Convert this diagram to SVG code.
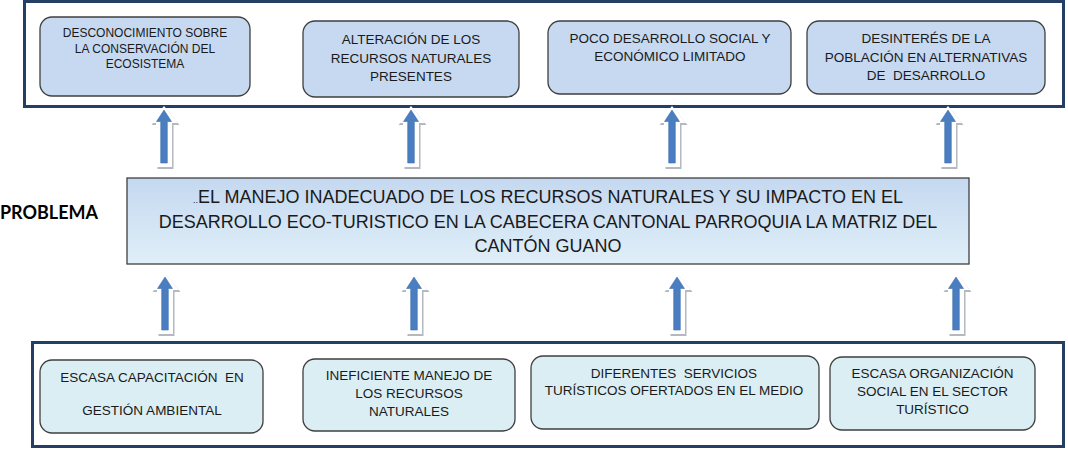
<svg xmlns="http://www.w3.org/2000/svg" xmlns:xlink="http://www.w3.org/1999/xlink" width="1068" height="449" viewBox="0 0 1068 449">
<style>
  .frame { fill: #ffffff; stroke: #243f63; stroke-width: 3; }
  .effect { fill: #c6d9f1; stroke: #3f3f3f; stroke-width: 1.3; }
  .cause { fill: #dbeef4; stroke: #3f3f3f; stroke-width: 1.3; }
  .prob { fill: url(#probGrad); stroke: #3f3f3f; stroke-width: 1.3; }
  text { font-family: "Liberation Sans", Arial, sans-serif; fill: #1a1a1a; text-anchor: middle; }
  .lbl { font-family: Lato, "Open Sans", sans-serif; font-weight: 700; font-size: 18px; fill: #000; text-anchor: start; }
</style>
<defs>
  <linearGradient id="probGrad" x1="0" y1="0" x2="0" y2="1">
    <stop offset="0" stop-color="#c4d8f0"/>
    <stop offset="1" stop-color="#e0eff8"/>
  </linearGradient>
  <g id="arrow">
    <path d="M1.5,-2 L15.5,15 L9.5,15 L9.5,59 L-6.5,59 L-6.5,15 L-12.5,15 Z" fill="#b4b8c0"/>
    <path d="M0,-4 L14,13 L8,13 L8,57 L-8,57 L-8,13 L-14,13 Z" fill="#ffffff"/>
    <path d="M0,0 L7.5,11.5 L3.3,11.5 L3.3,53 L-3.3,53 L-3.3,11.5 L-7.5,11.5 Z" fill="#4a7ec0" stroke="#3f70b0" stroke-width="0.6"/>
  </g>
</defs>

<g id="frames">
  <rect class="frame" x="24.5" y="1.5" width="1039" height="105"/>
  <rect class="frame" x="32.5" y="342.5" width="1031" height="104"/>
</g>

<g id="connectors">
  <use xlink:href="#arrow" x="164" y="110"/>
  <use xlink:href="#arrow" x="411" y="110"/>
  <use xlink:href="#arrow" x="672" y="110"/>
  <use xlink:href="#arrow" x="948" y="110"/>
  <use xlink:href="#arrow" x="165" y="277"/>
  <use xlink:href="#arrow" x="414" y="277"/>
  <use xlink:href="#arrow" x="677" y="277"/>
  <use xlink:href="#arrow" x="956" y="277"/>
</g>

<g id="effect1" font-size="12">
  <rect class="effect" x="40" y="17" width="210" height="79" rx="12"/>
  <text x="145" y="37">DESCONOCIMIENTO SOBRE</text>
  <text x="145" y="52.5">LA CONSERVACIÓN DEL</text>
  <text x="145" y="68">ECOSISTEMA</text>
</g>
<g id="effect2" font-size="13.5">
  <rect class="effect" x="303" y="21" width="216" height="76" rx="12"/>
  <text x="411" y="44">ALTERACIÓN DE LOS</text>
  <text x="411" y="62.5">RECURSOS NATURALES</text>
  <text x="411" y="81">PRESENTES</text>
</g>
<g id="effect3" font-size="13.5">
  <rect class="effect" x="548" y="21" width="243" height="73" rx="12"/>
  <text x="670" y="43">POCO DESARROLLO SOCIAL Y</text>
  <text x="670" y="60.5">ECONÓMICO LIMITADO</text>
</g>
<g id="effect4" font-size="13.5">
  <rect class="effect" x="807" y="21" width="238" height="73" rx="12"/>
  <text x="926" y="43">DESINTERÉS DE LA</text>
  <text x="926" y="61.5">POBLACIÓN EN ALTERNATIVAS</text>
  <text x="926" y="80">DE&#160; DESARROLLO</text>
</g>

<g id="label">
  <text class="lbl" x="0" y="219" textLength="98" lengthAdjust="spacingAndGlyphs">PROBLEMA</text>
</g>

<g id="problem" font-size="18">
  <rect class="prob" x="127" y="178" width="842" height="86"/>
  <text x="548" y="203"><tspan font-size="9">..</tspan>EL MANEJO INADECUADO DE LOS RECURSOS NATURALES Y SU IMPACTO EN EL</text>
  <text x="548" y="227.5">DESARROLLO ECO-TURISTICO EN LA CABECERA CANTONAL PARROQUIA LA MATRIZ DEL</text>
  <text x="548" y="252">CANTÓN GUANO</text>
</g>

<g id="cause1" font-size="13.5">
  <rect class="cause" x="40" y="360" width="223" height="73" rx="12"/>
  <text x="152" y="382">ESCASA CAPACITACIÓN&#160; EN</text>
  <text x="152" y="415">GESTIÓN AMBIENTAL</text>
</g>
<g id="cause2" font-size="13.5">
  <rect class="cause" x="303" y="359" width="212" height="72" rx="12"/>
  <text x="409" y="380">INEFICIENTE MANEJO DE</text>
  <text x="409" y="398">LOS RECURSOS</text>
  <text x="409" y="416">NATURALES</text>
</g>
<g id="cause3" font-size="13.5">
  <rect class="cause" x="531" y="356" width="288" height="73" rx="12"/>
  <text x="674" y="378">DIFERENTES&#160; SERVICIOS</text>
  <text x="674" y="395">TURÍSTICOS OFERTADOS EN EL MEDIO</text>
</g>
<g id="cause4" font-size="13.5">
  <rect class="cause" x="830" y="357" width="205" height="73" rx="12"/>
  <text x="932.5" y="378">ESCASA ORGANIZACIÓN</text>
  <text x="932.5" y="396">SOCIAL EN EL SECTOR</text>
  <text x="932.5" y="414">TURÍSTICO</text>
</g>
</svg>
